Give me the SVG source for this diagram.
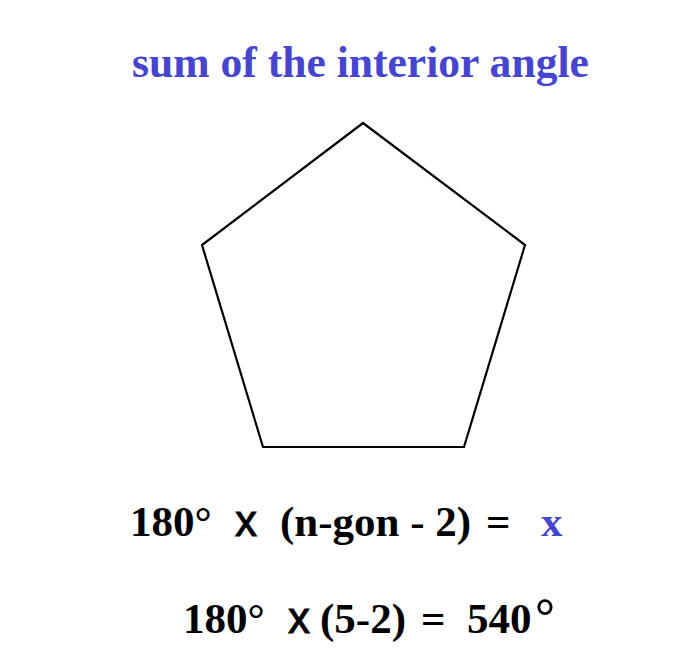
<svg xmlns="http://www.w3.org/2000/svg" width="692" height="668" viewBox="0 0 692 668">
<style>
.t{font-family:"Liberation Serif","Times New Roman",serif;font-weight:bold;fill:#000}
.b{fill:#4545cf}
.s{font-family:"Liberation Sans",Arial,sans-serif;fill:#000;stroke:#000;stroke-width:0.9}
</style>
<rect width="692" height="668" fill="#fff"/>
<text class="t b" x="132" y="77" font-size="43.6">sum of the interior angle</text>
<g id="pentagon">
<polygon points="363,123 525,245 464,447 263,447 202,245" fill="none" stroke="#000" stroke-width="2.2"/>
</g>
<g id="formula1">
<text class="t" x="130" y="536" font-size="43">180°</text>
<text class="s" x="235" y="536" font-size="44">x</text>
<text class="t" x="280" y="536" font-size="43">(n-gon - 2)</text>
<text class="t" x="486" y="536" font-size="43">=</text>
<text class="t b" x="541" y="536" font-size="43">x</text>
</g>
<g id="formula2">
<text class="t" x="183" y="633" font-size="43">180°</text>
<text class="s" x="288" y="633" font-size="44">x</text>
<text class="t" x="320" y="633" font-size="43">(5-2)</text>
<text class="t" x="421" y="633" font-size="43">=</text>
<text class="t" x="467" y="633" font-size="43">540</text>
<text class="t" x="535" y="633" font-size="50">°</text>
</g>
</svg>
